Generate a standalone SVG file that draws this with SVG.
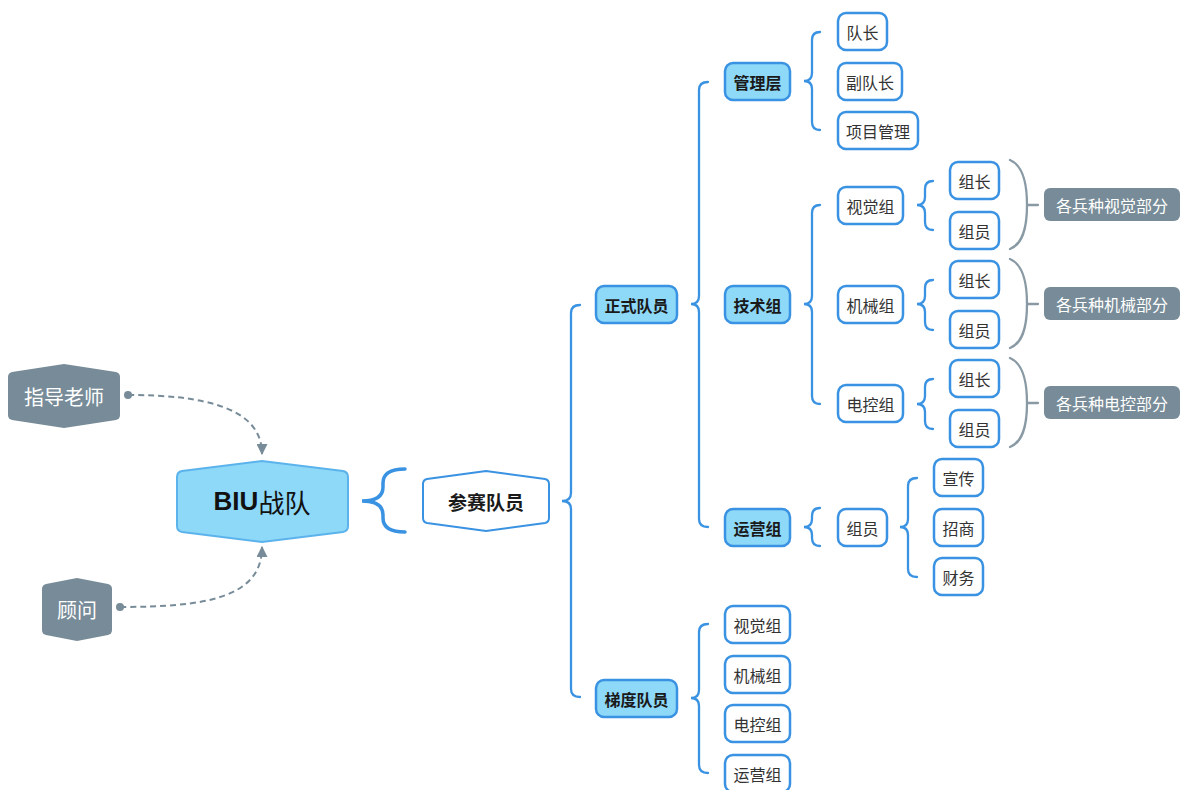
<svg xmlns="http://www.w3.org/2000/svg" width="1181" height="790" viewBox="0 0 1181 790">
<defs>
<style>
.lb{fill:#8ED8F8;stroke:#3A92E2;stroke-width:2.5}
.lw{fill:#fff;stroke:#3A92E2;stroke-width:2.5}
.gy{fill:#778C98}
.br{fill:none;stroke:#3A92E2;stroke-width:2.3;stroke-linecap:round}
.gbr{fill:none;stroke:#8A9AA4;stroke-width:2.3;stroke-linecap:round}
.dash{fill:none;stroke:#778C98;stroke-width:2;stroke-dasharray:6 4}
text{font-family:"Noto Sans CJK SC","Liberation Sans",sans-serif;text-anchor:middle;dominant-baseline:central}
.tb{font-size:16px;font-weight:bold;fill:#1a1a1a}
.tl{font-size:16px;fill:#333}
.tg{font-size:16px;fill:#fff}
</style>
<marker id="arr" viewBox="0 0 10 10" refX="9" refY="5" markerWidth="5.5" markerHeight="5.5" orient="auto"><path d="M0,0 L10,5 L0,10 Z" fill="#778C98"/></marker>
</defs>

<g id="connectors">
<path class="dash" d="M128,395 C205,395 262,408 262,454" marker-end="url(#arr)"/>
<circle cx="128" cy="395" r="4" fill="#778C98"/>
<path class="dash" d="M120,607 C205,607 262,598 262,547" marker-end="url(#arr)"/>
<circle cx="120" cy="607" r="4" fill="#778C98"/>
<path class="br" style="stroke-width:3.5" d="M405,469 Q383,469 383,483 L383,487 Q383,501 362,501 Q383,501 383,515 L383,518 Q383,532 405,532"/>
<path class="br" d="M580,305 Q571,305 571,313 L571,493 Q571,501 562,501 Q571,501 571,509 L571,689 Q571,697 580,697"/>
<path class="br" d="M708,82 Q699,82 699,90 L699,296 Q699,304 691,304 Q699,304 699,312 L699,519 Q699,527 708,527"/>
<path class="br" d="M820,32 Q812,32 812,40 L812,73 Q812,81 804,81 Q812,81 812,89 L812,122 Q812,130 820,130"/>
<path class="br" d="M820,205 Q812,205 812,213 L812,296 Q812,304 804,304 Q812,304 812,312 L812,396 Q812,404 820,404"/>
<path class="br" d="M933,181 Q925,181 925,189 L925,197 Q925,205 917,205 Q925,205 925,213 L925,222 Q925,230 933,230"/>
<path class="br" d="M933,280 Q925,280 925,288 L925,296 Q925,304 917,304 Q925,304 925,312 L925,322 Q925,330 933,330"/>
<path class="br" d="M933,379 Q925,379 925,387 L925,396 Q925,404 917,404 Q925,404 925,412 L925,421 Q925,429 933,429"/>
<path class="br" d="M820,508 Q812,508 812,516 L812,519 Q812,527 804,527 Q812,527 812,535 L812,538 Q812,546 820,546"/>
<path class="br" d="M917,478 Q908,478 908,486 L908,519 Q908,527 900,527 Q908,527 908,535 L908,569 Q908,577 917,577"/>
<path class="br" d="M708,624 Q699,624 699,632 L699,690 Q699,698 691,698 Q699,698 699,706 L699,765 Q699,773 708,773"/>
<path class="gbr" d="M1010,160 C1022,165 1027,180 1027,205 C1027,230 1022,244 1010,249 M1027,205 L1038,205"/>
<path class="gbr" d="M1010,259 C1022,264 1027,279 1027,304 C1027,329 1022,343 1010,348 M1027,304 L1038,304"/>
<path class="gbr" d="M1010,358 C1022,363 1027,378 1027,403 C1027,428 1022,442 1010,447 M1027,403 L1038,403"/>
</g>

<g id="n-teacher">
<path class="gy" d="M8,377 Q8,373 12,372 L64,364 L116,372 Q120,373 120,377 L120,415 Q120,419 116,420 L64,428 L12,420 Q8,419 8,415 Z"/>
<text class="tg" x="64" y="396" style="font-size:20px">指导老师</text>
</g>
<g id="n-advisor">
<path class="gy" d="M42,589 Q42,585 46,584 L77,578 L108,584 Q112,585 112,589 L112,630 Q112,634 108,635 L77,641 L46,635 Q42,634 42,630 Z"/>
<text class="tg" x="77" y="609" style="font-size:20px">顾问</text>
</g>
<g id="n-biu">
<path d="M177,477 Q177,472 182,471 L262,461 L343,471 Q348,472 348,477 L348,526 Q348,531 343,532 L262,542 L182,532 Q177,531 177,526 Z" fill="#8ED8F8" stroke="#5CB3EC" stroke-width="2"/>
<text x="262" y="501" style="font-size:26px;fill:#111"><tspan font-weight="bold" font-family="Liberation Sans">BIU</tspan>战队</text>
</g>
<g id="n-cansai">
<path d="M423,484 Q423,480 427,479 L486,471 L545,479 Q549,480 549,484 L549,518 Q549,522 545,523 L486,531 L427,523 Q423,522 423,518 Z" fill="#fff" stroke="#3A92E2" stroke-width="2"/>
<text x="486" y="501" style="font-size:19px;font-weight:bold;fill:#1a1a1a">参赛队员</text>
</g>

<g id="n-zhengshi"><rect class="lb" x="596" y="286" width="81" height="37" rx="8"/><text class="tb" x="636.5" y="304.5">正式队员</text></g>
<g id="n-tidu"><rect class="lb" x="596" y="680" width="81" height="37" rx="8"/><text class="tb" x="636.5" y="698.5">梯度队员</text></g>

<g id="n-guanli"><rect class="lb" x="725" y="63" width="65" height="37" rx="8"/><text class="tb" x="757.5" y="81.5">管理层</text></g>
<g id="n-jishu"><rect class="lb" x="725" y="286" width="65" height="37" rx="8"/><text class="tb" x="757.5" y="304.5">技术组</text></g>
<g id="n-yunying"><rect class="lb" x="725" y="509" width="65" height="37" rx="8"/><text class="tb" x="757.5" y="527.5">运营组</text></g>

<g id="n-duizhang"><rect class="lw" x="838" y="13" width="49" height="37" rx="8"/><text class="tl" x="862.5" y="31.5">队长</text></g>
<g id="n-fuduizhang"><rect class="lw" x="838" y="63" width="64" height="37" rx="8"/><text class="tl" x="870" y="81.5">副队长</text></g>
<g id="n-xiangmu"><rect class="lw" x="838" y="112" width="80" height="37" rx="8"/><text class="tl" x="878" y="130.5">项目管理</text></g>

<g id="n-shijue"><rect class="lw" x="838" y="187" width="65" height="37" rx="8"/><text class="tl" x="870.5" y="205.5">视觉组</text></g>
<g id="n-jixie"><rect class="lw" x="838" y="286" width="65" height="37" rx="8"/><text class="tl" x="870.5" y="304.5">机械组</text></g>
<g id="n-diankong"><rect class="lw" x="838" y="385" width="65" height="37" rx="8"/><text class="tl" x="870.5" y="403.5">电控组</text></g>

<g id="n-sj-zz"><rect class="lw" x="950" y="162" width="49" height="37" rx="8"/><text class="tl" x="974.5" y="180.5">组长</text></g>
<g id="n-sj-zy"><rect class="lw" x="950" y="212" width="49" height="37" rx="8"/><text class="tl" x="974.5" y="230.5">组员</text></g>
<g id="n-jx-zz"><rect class="lw" x="950" y="261" width="49" height="37" rx="8"/><text class="tl" x="974.5" y="279.5">组长</text></g>
<g id="n-jx-zy"><rect class="lw" x="950" y="311" width="49" height="37" rx="8"/><text class="tl" x="974.5" y="329.5">组员</text></g>
<g id="n-dk-zz"><rect class="lw" x="950" y="360" width="49" height="37" rx="8"/><text class="tl" x="974.5" y="378.5">组长</text></g>
<g id="n-dk-zy"><rect class="lw" x="950" y="410" width="49" height="37" rx="8"/><text class="tl" x="974.5" y="428.5">组员</text></g>

<g id="n-sum-sj"><rect class="gy" x="1044" y="188" width="136" height="33" rx="6"/><text class="tg" x="1112" y="204.5">各兵种视觉部分</text></g>
<g id="n-sum-jx"><rect class="gy" x="1044" y="287" width="136" height="33" rx="6"/><text class="tg" x="1112" y="303.5">各兵种机械部分</text></g>
<g id="n-sum-dk"><rect class="gy" x="1044" y="386" width="136" height="33" rx="6"/><text class="tg" x="1112" y="402.5">各兵种电控部分</text></g>

<g id="n-yy-zy"><rect class="lw" x="838" y="509" width="49" height="37" rx="8"/><text class="tl" x="862.5" y="527.5">组员</text></g>
<g id="n-xuanchuan"><rect class="lw" x="934" y="459" width="49" height="37" rx="8"/><text class="tl" x="958.5" y="477.5">宣传</text></g>
<g id="n-zhaoshang"><rect class="lw" x="934" y="509" width="49" height="37" rx="8"/><text class="tl" x="958.5" y="527.5">招商</text></g>
<g id="n-caiwu"><rect class="lw" x="934" y="558" width="49" height="37" rx="8"/><text class="tl" x="958.5" y="576.5">财务</text></g>

<g id="n-td-sj"><rect class="lw" x="725" y="606" width="65" height="37" rx="8"/><text class="tl" x="757.5" y="624.5">视觉组</text></g>
<g id="n-td-jx"><rect class="lw" x="725" y="656" width="65" height="37" rx="8"/><text class="tl" x="757.5" y="674.5">机械组</text></g>
<g id="n-td-dk"><rect class="lw" x="725" y="705" width="65" height="37" rx="8"/><text class="tl" x="757.5" y="723.5">电控组</text></g>
<g id="n-td-yy"><rect class="lw" x="725" y="755" width="65" height="37" rx="8"/><text class="tl" x="757.5" y="773.5">运营组</text></g>
</svg>
